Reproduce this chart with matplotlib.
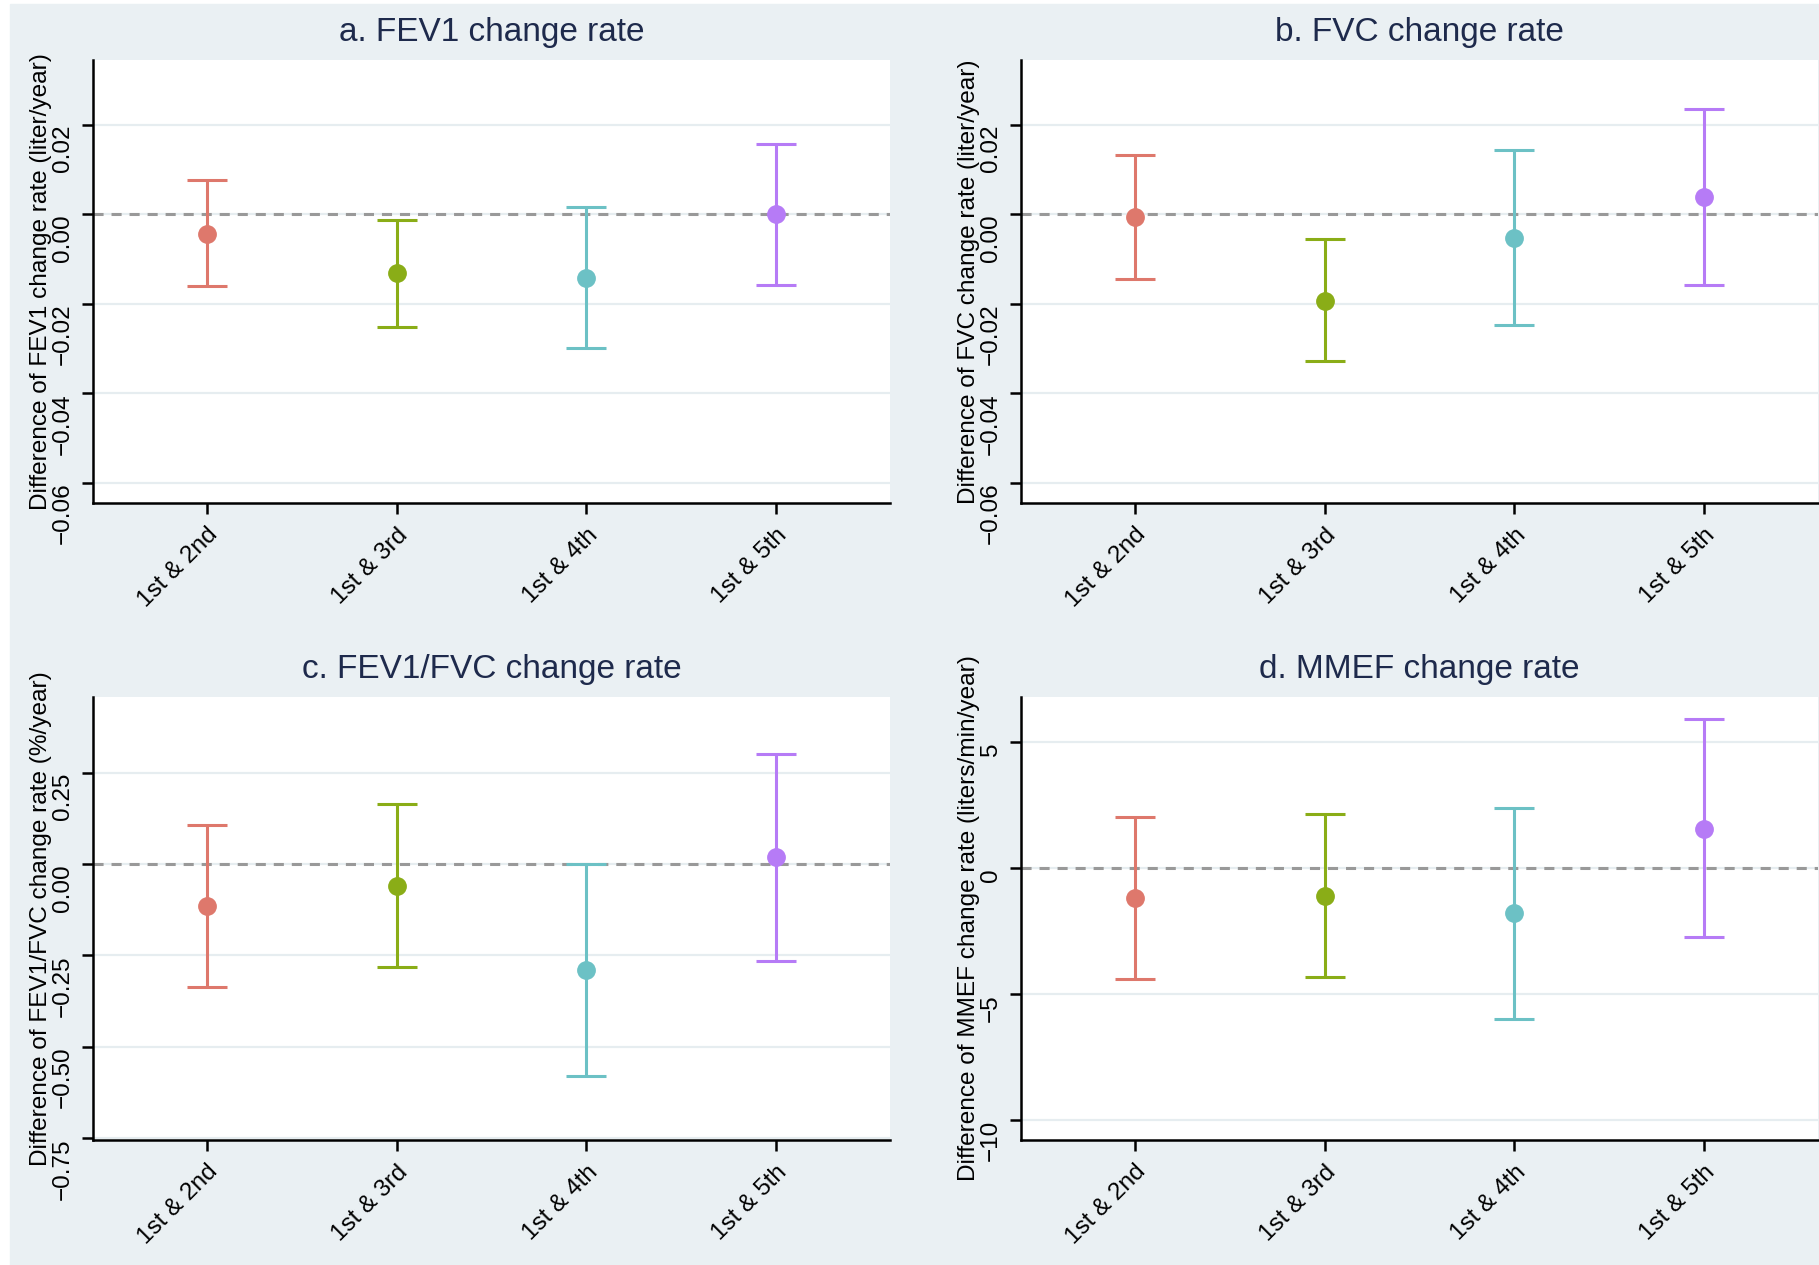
import numpy as np
import matplotlib
matplotlib.use("Agg")
from matplotlib import pyplot as plt
from matplotlib.patches import Rectangle

plt.rcParams['font.family'] = ['Liberation Sans', 'DejaVu Sans']

groups = ["1st & 2nd", "1st & 3rd", "1st & 4th", "1st & 5th"]
colors = ['#DE786C', '#8AAD17', '#6CC1C5', '#B67BF6']

# estimates and 95% CI
fev1_est = [-0.0043, -0.0132, -0.0143, 0.0000]
fev1_lo = [-0.0161, -0.0251, -0.0299, -0.0157]
fev1_hi = [0.0077, -0.0013, 0.0017, 0.0157]

fvc_est = [-0.0006, -0.0193, -0.0052, 0.0039]
fvc_lo = [-0.0145, -0.0328, -0.0248, -0.0157]
fvc_hi = [0.0132, -0.0055, 0.0144, 0.0235]

ratio_est = [-0.116, -0.059, -0.291, 0.018]
ratio_lo = [-0.337, -0.282, -0.580, -0.266]
ratio_hi = [0.108, 0.165, 0.000, 0.300]

mmef_est = [-1.17, -1.09, -1.77, 1.56]
mmef_lo = [-4.39, -4.34, -5.98, -2.73]
mmef_hi = [2.05, 2.16, 2.40, 5.94]

titles = ["a. FEV1 change rate", "b. FVC change rate",
          "c. FEV1/FVC change rate", "d. MMEF change rate"]
ylabels = ["Difference of FEV1 change rate (liter/year)",
           "Difference of FVC change rate (liter/year)",
           "Difference of FEV1/FVC change rate (%/year)",
           "Difference of MMEF change rate (liters/min/year)"]
yticks = [[-0.06, -0.04, -0.02, 0.00, 0.02],
          [-0.06, -0.04, -0.02, 0.00, 0.02],
          [-0.75, -0.50, -0.25, 0.00, 0.25],
          [-10, -5, 0, 5]]
yticklabels = [["\u22120.06", "\u22120.04", "\u22120.02", "0.00", "0.02"],
               ["\u22120.06", "\u22120.04", "\u22120.02", "0.00", "0.02"],
               ["\u22120.75", "\u22120.50", "\u22120.25", "0.00", "0.25"],
               ["\u221210", "\u22125", "0", "5"]]
ylims = [(-0.0645, 0.0345), (-0.0645, 0.0345), (-0.755, 0.457), (-10.8, 6.8)]

data = [(fev1_est, fev1_lo, fev1_hi), (fvc_est, fvc_lo, fvc_hi),
        (ratio_est, ratio_lo, ratio_hi), (mmef_est, mmef_lo, mmef_hi)]

W, H = 1819, 1265
fig = plt.figure(figsize=(W / 100, H / 100), dpi=100, facecolor='white')
bg = '#EAF0F3'
fig.patches.append(Rectangle((10 / W, 0), 1 - 10 / W, 1 - 4 / H,
                             transform=fig.transFigure, color=bg, zorder=-5))

# pixel boxes of the four plot areas: left, top, right, bottom
boxes = [(93, 60, 890, 503), (1021, 60, 1818, 503),
         (93, 697, 890, 1140), (1021, 697, 1818, 1140)]

navy = '#1E2A4C'
x = np.arange(1, len(groups) + 1)

for i in range(4):
    l, t, r, b = boxes[i]
    ax = fig.add_axes([l / W, 1 - b / H, (r - l) / W, (b - t) / H])
    ax.set_facecolor('white')
    est, lo, hi = data[i]
    est = np.array(est)
    lo = np.array(lo)
    hi = np.array(hi)

    for tv in yticks[i]:
        ax.axhline(tv, color='#E6EDF0', lw=1.6, zorder=1)
    ax.axhline(0, color='#999999', lw=2.2, dashes=(3.3, 2.6), zorder=2)

    for j in range(len(groups)):
        ax.errorbar(x[j], est[j], yerr=[[est[j] - lo[j]], [hi[j] - est[j]]],
                    fmt='o', color=colors[j], ms=12.5, elinewidth=2.2,
                    capsize=14.4, capthick=2.2, zorder=3)

    ax.set_xlim(0.4, 4.6)
    ax.set_ylim(*ylims[i])
    ax.set_xticks(x)
    ax.set_xticklabels(groups, rotation=45, ha='right', rotation_mode='anchor',
                       fontsize=17.5)
    ax.set_yticks(yticks[i])
    ax.set_yticklabels(yticklabels[i], rotation=90, va='top', fontsize=17.5)
    ax.tick_params(axis='both', length=8, width=1.8, color='black')
    ax.tick_params(axis='y', pad=6)
    ax.tick_params(axis='x', pad=7)
    for s in ['top', 'right']:
        ax.spines[s].set_visible(False)
    for s in ['left', 'bottom']:
        ax.spines[s].set_linewidth(1.8)
    ax.set_ylabel(ylabels[i], fontsize=17.6)
    ax.yaxis.set_label_coords(-0.052, 0.5)
    ax.set_title(titles[i], fontsize=24, color=navy, pad=13.5)

fig.savefig("out.png", dpi=100, facecolor='white')
